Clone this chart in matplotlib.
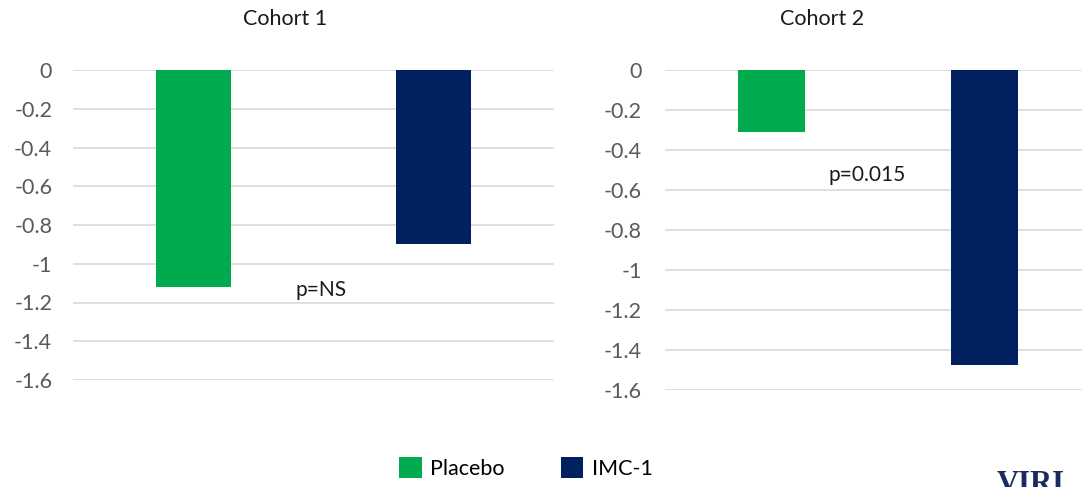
import matplotlib
matplotlib.use("Agg")
import matplotlib.pyplot as plt
from matplotlib.patches import Patch

# data
groups = ["Placebo", "IMC-1"]
cohort1 = [-1.12, -0.90]
cohort2 = [-0.31, -1.475]
titles = ["Cohort 1", "Cohort 2"]
yticks = [0, -0.2, -0.4, -0.6, -0.8, -1, -1.2, -1.4, -1.6]
ytick_labels = ["0", "-0.2", "-0.4", "-0.6", "-0.8", "-1", "-1.2", "-1.4", "-1.6"]
pvals = ["p=NS", "p=0.015"]

colors = ["#00AB4E", "#002060"]
grid_col = "#D9D9D9"
lab_col = "#595959"

plt.rcParams['font.family'] = ['Lato', 'DejaVu Sans']

W, H = 1082, 487
fig = plt.figure(figsize=(W / 100, H / 100), dpi=100)

def px_axes(x0, x1, ytop, ybot):
	return fig.add_axes([x0 / W, 1 - ybot / H, (x1 - x0) / W, (ybot - ytop) / H])

ax1 = px_axes(73, 554, 70, 380)
ax2 = px_axes(665, 1091, 70, 390)

for ax, vals, pad in [(ax1, cohort1, 15), (ax2, cohort2, 16.5)]:
	ax.bar(range(len(groups)), vals, width=0.31, color=colors, zorder=3)
	ax.set_xlim(-0.5, 1.5)
	ax.set_ylim(-1.6, 0)
	ax.set_yticks(yticks)
	ax.set_yticklabels(ytick_labels)
	ax.set_xticks([])
	ax.tick_params(axis='y', length=0, pad=pad, labelsize=15.5, labelcolor=lab_col)
	ax.grid(axis='y', color=grid_col, linewidth=1.2, zorder=0)
	for s in ax.spines.values():
		s.set_visible(False)

# p-value notes
ax1.text(0.531, -1.135, pvals[0], ha='center', va='center', fontsize=15, color='#1a1a1a')
ax2.text(0.448, -0.525, pvals[1], ha='center', va='center', fontsize=15, color='#1a1a1a')

# panel titles
fig.text(285 / W, 1 - 19 / H, titles[0], ha='center', va='center', fontsize=15.5, color='#1a1a1a')
fig.text(822 / W, 1 - 19 / H, titles[1], ha='center', va='center', fontsize=15.5, color='#1a1a1a')

# legend
handles = [Patch(facecolor=c, edgecolor='none') for c in colors]
fig.legend(handles, groups, loc='center', bbox_to_anchor=(526 / W, 1 - 468 / H),
	ncol=2, frameon=False, fontsize=15.5, handlelength=1.05, handleheight=1.1,
	handletextpad=0.4, columnspacing=2.6)

# cut-off logo text in the corner, as in the source slide
fig.text(997 / W, 1 - 470 / H, "VIRI", ha='left', va='top', fontsize=22,
	fontweight='bold', family='Liberation Serif', color='#1d2b5c')

fig.savefig("out.png", dpi=100)
